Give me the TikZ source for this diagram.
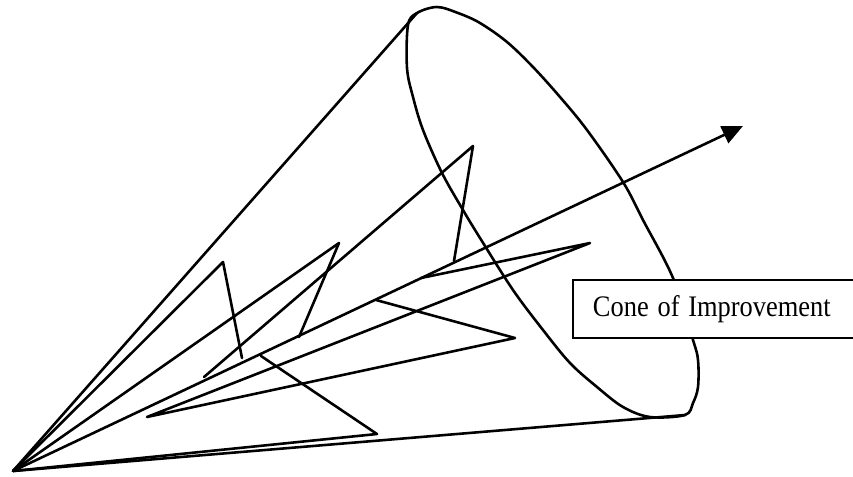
\documentclass[tikz,border=0pt]{standalone}
\usepackage{fontspec}
\setmainfont{Liberation Serif}
\usepackage{tikz}
\usetikzlibrary{arrows.meta, positioning}

\begin{document}
\begin{tikzpicture}[
    x=0.03cm, y=-0.03cm,
    stroke/.style={line width=2.2pt, line join=round, line cap=round},
    arrow/.style={stroke, -{Triangle[length=0.62cm, width=0.55cm]}},
    labelbox/.style={draw=black, line width=1.6pt, fill=white, anchor=west, text width=8cm, align=left, inner xsep=0.6cm, minimum height=1.74cm, font=\fontsize{24}{27}\selectfont}
]
\clip (0,0) rectangle (853,476);

% apex, rim and arrow tip
\coordinate (apex) at (13,471);
\coordinate (rimtop) at (417,13);
\coordinate (rimbot) at (685,415);
\coordinate (tip) at (743,126);

% rim of the cone
\draw[stroke] plot[smooth cycle, tension=0.55] coordinates {
    (417,13) (437,7) (458,13) (480,23) (507,42) (533,67) (560,97) (587,130)
    (623,182) (643,220) (673,278) (693,340) (698,360) (698,387) (693,403)
    (685,415) (650,417) (623,407) (597,387) (570,363) (543,330) (513,290)
    (480,238) (463,210) (442,173) (423,130) (413,97) (407,68) (408,25)};

% sides of the cone
\draw[stroke] (apex) -- (rimtop);
\draw[stroke] (apex) -- (rimbot);

% zigzag path
\coordinate (z1) at (223,262);
\coordinate (z2) at (242,358);
\coordinate (z3) at (204,377);
\coordinate (z4) at (473,146);
\coordinate (z5) at (454,261);
\coordinate (z6) at (339,243);
\coordinate (z7) at (299,337);
\coordinate (z8) at (261,356);
\coordinate (z9) at (377,434);
\coordinate (z10) at (376,300);
\coordinate (z11) at (515,338);
\coordinate (z12) at (147,417);
\coordinate (z13) at (590,243);
\coordinate (z14) at (421,278);

\draw[stroke] (apex) -- (z1) -- (z2);
\draw[stroke] (z3) -- (z4) -- (z5);
\draw[stroke] (apex) -- (z6) -- (z7);
\draw[stroke] (z8) -- (z9) -- (apex);
\draw[stroke] (z10) -- (z11) -- (z12) -- (z13) -- (z14);

% direction of improvement
\draw[arrow] (apex) -- (tip);

\node[labelbox] (label) at (572,309) {\scalebox{0.94}[1.06]{Cone of Improvement}};
\end{tikzpicture}
\end{document}
